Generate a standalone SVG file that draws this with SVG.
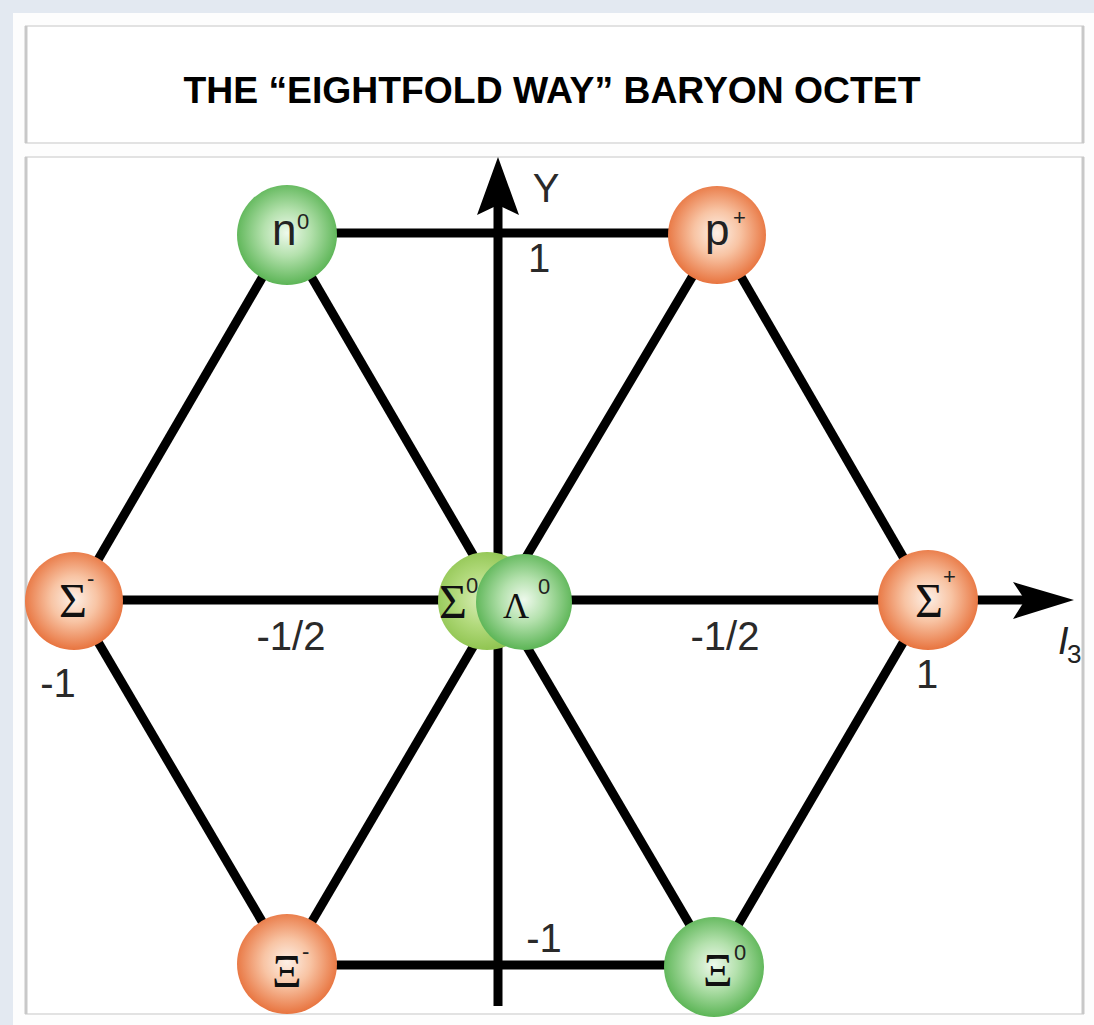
<svg xmlns="http://www.w3.org/2000/svg" width="1094" height="1025" viewBox="0 0 1094 1025">
  <defs>
    <radialGradient id="gOrange" cx="50%" cy="48%" r="52%">
      <stop offset="0" stop-color="#fdf0e6"/>
      <stop offset="0.45" stop-color="#f8c4a4"/>
      <stop offset="1" stop-color="#e8743f"/>
    </radialGradient>
    <radialGradient id="gGreen" cx="50%" cy="48%" r="52%">
      <stop offset="0" stop-color="#eef9ec"/>
      <stop offset="0.45" stop-color="#b4e1ad"/>
      <stop offset="1" stop-color="#5cb556"/>
    </radialGradient>
    <radialGradient id="gLime" cx="45%" cy="48%" r="55%">
      <stop offset="0" stop-color="#d9edb8"/>
      <stop offset="0.5" stop-color="#b2da7c"/>
      <stop offset="1" stop-color="#8cc24c"/>
    </radialGradient>
  </defs>
  <style>
    .axis { stroke: #000; stroke-width: 9; fill: none; }
    .edge { stroke: #000; stroke-width: 9; fill: none; }
    .tick { font-family: "Liberation Sans", Arial, sans-serif; font-size: 40px; fill: #2a2a2a; text-anchor: middle; }
    .sym { font-family: "Liberation Sans", Arial, sans-serif; fill: #222; }
    .greek { font-family: "Liberation Serif", "Times New Roman", serif; fill: #111; }
    .sup { font-family: "Liberation Sans", Arial, sans-serif; fill: #222; font-size: 22px; }
    .box { fill: #fff; stroke: #e2e2e2; stroke-width: 2; }
  </style>

  <!-- page background and panels -->
  <rect x="0" y="0" width="1094" height="1025" fill="#e3e9f1"/>
  <rect x="13" y="13" width="1081" height="1012" fill="#fdfdfd"/>
  <rect class="box" x="26" y="26" width="1057" height="117"/>
  <line x1="26" y1="26" x2="26" y2="143" stroke="#c8c8c8" stroke-width="3"/>
  <line x1="1083" y1="26" x2="1083" y2="143" stroke="#c8c8c8" stroke-width="3"/>
  <rect class="box" x="26" y="157" width="1057" height="857"/>
  <line x1="26" y1="157" x2="26" y2="1014" stroke="#c8c8c8" stroke-width="3"/>
  <line x1="1083" y1="157" x2="1083" y2="1014" stroke="#c8c8c8" stroke-width="3"/>

  <text x="552" y="103" font-family="Liberation Sans, Arial, sans-serif" font-weight="bold" font-size="37.3" text-anchor="middle" fill="#000">THE “EIGHTFOLD WAY” BARYON OCTET</text>

  <!-- axes and edges -->
  <g id="connectors">
    <line class="axis" x1="498" y1="195" x2="498" y2="1006"/>
    <path d="M498,157 L519,215 L498,205 L477,215 Z" fill="#000"/>
    <line class="axis" x1="74" y1="600" x2="1035" y2="600"/>
    <path d="M1074,600 L1013,582 L1025,600 L1013,619 Z" fill="#000"/>

    <line class="edge" x1="287" y1="233" x2="717" y2="233"/>
    <line class="edge" x1="287" y1="965" x2="715" y2="965"/>

    <line class="edge" x1="287" y1="235" x2="74" y2="601"/>
    <line class="edge" x1="287" y1="235" x2="500" y2="601"/>
    <line class="edge" x1="717" y1="235" x2="500" y2="601"/>
    <line class="edge" x1="717" y1="235" x2="928" y2="600"/>
    <line class="edge" x1="74" y1="601" x2="287" y2="964"/>
    <line class="edge" x1="500" y1="601" x2="287" y2="964"/>
    <line class="edge" x1="500" y1="601" x2="714" y2="966"/>
    <line class="edge" x1="928" y1="600" x2="714" y2="966"/>
  </g>

  <!-- axis labels -->
  <text class="tick" x="546" y="202" font-size="42">Y</text>
  <text class="tick" x="539" y="272">1</text>
  <text class="tick" x="291" y="650">-1/2</text>
  <text class="tick" x="725" y="650">-1/2</text>
  <text class="tick" x="58" y="697">-1</text>
  <text class="tick" x="927" y="688">1</text>
  <text class="tick" x="544" y="952" font-size="34">-1</text>
  <text class="sym" x="1058" y="654" font-size="38" font-style="italic">I</text>
  <text class="sym" x="1067" y="663" font-size="26">3</text>

  <!-- particles -->
  <g id="n0">
    <circle cx="287" cy="235" r="50" fill="url(#gGreen)"/>
    <text class="sym" x="272" y="245" font-size="44">n</text>
    <text class="sup" x="297" y="229" font-size="20">0</text>
  </g>
  <g id="p-plus">
    <circle cx="717" cy="235" r="49" fill="url(#gOrange)"/>
    <text class="sym" x="705" y="245" font-size="44">p</text>
    <text class="sup" x="733" y="225" font-size="18">+</text>
  </g>
  <g id="sigma-minus">
    <circle cx="74" cy="601" r="49" fill="url(#gOrange)"/>
    <text class="greek" x="59" y="617" font-size="48">Σ</text>
    <text class="sup" x="87" y="586" font-size="18">-</text>
  </g>
  <g id="sigma0">
    <circle cx="487" cy="601" r="49" fill="url(#gLime)"/>
    <text class="greek" x="439" y="618" font-size="48">Σ</text>
    <text class="sup" x="466" y="593" font-size="18">0</text>
  </g>
  <g id="lambda0">
    <circle cx="524" cy="602" r="48" fill="url(#gGreen)"/>
    <text class="greek" x="503" y="618" font-size="36">Λ</text>
    <text class="sup" x="538" y="594" font-size="18">0</text>
  </g>
  <g id="sigma-plus">
    <circle cx="928" cy="600" r="50" fill="url(#gOrange)"/>
    <text class="greek" x="915" y="617" font-size="48">Σ</text>
    <text class="sup" x="943" y="584" font-size="17">+</text>
  </g>
  <g id="xi-minus">
    <circle cx="287" cy="964" r="50" fill="url(#gOrange)"/>
    <text class="greek" x="272" y="987" font-size="46">Ξ</text>
    <text class="sup" x="302" y="959" font-size="17">-</text>
  </g>
  <g id="xi0">
    <circle cx="714" cy="967" r="50" fill="url(#gGreen)"/>
    <text class="greek" x="703" y="986" font-size="46">Ξ</text>
    <text class="sup" x="734" y="960" font-size="18">0</text>
  </g>
</svg>
